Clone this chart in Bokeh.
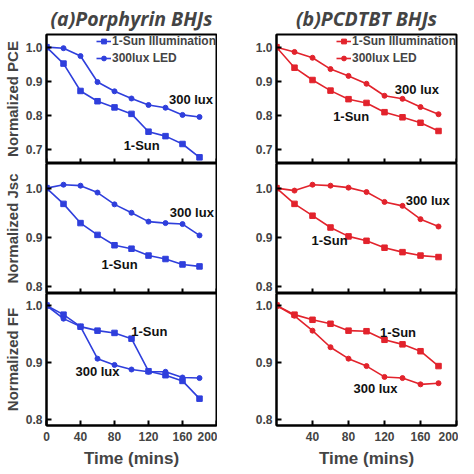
from bokeh.plotting import figure
from bokeh.layouts import row, column
from bokeh.models import FixedTicker, Legend, LegendItem, ColumnDataSource, PrintfTickFormatter
from bokeh.core.properties import value
from bokeh.embed import file_html
from bokeh.resources import INLINE

# ---------------- data ----------------
time = [0, 20, 40, 60, 80, 100, 120, 140, 160, 180]

a_pce_sun = [1.0, 0.952, 0.872, 0.842, 0.824, 0.805, 0.753, 0.740, 0.717, 0.678]
a_pce_lux = [1.0, 0.997, 0.974, 0.898, 0.871, 0.850, 0.831, 0.823, 0.802, 0.796]
a_jsc_sun = [1.0, 0.968, 0.929, 0.905, 0.884, 0.877, 0.863, 0.856, 0.845, 0.841]
a_jsc_lux = [1.0, 1.007, 1.005, 0.991, 0.967, 0.950, 0.932, 0.929, 0.927, 0.904]
a_ff_sun = [1.0, 0.984, 0.963, 0.956, 0.952, 0.942, 0.885, 0.878, 0.868, 0.837]
a_ff_lux = [1.0, 0.977, 0.963, 0.907, 0.896, 0.888, 0.884, 0.884, 0.874, 0.873]

b_pce_sun = [1.0, 0.940, 0.904, 0.873, 0.848, 0.837, 0.810, 0.795, 0.779, 0.755]
b_pce_lux = [1.0, 0.986, 0.969, 0.936, 0.916, 0.893, 0.858, 0.849, 0.825, 0.804]
b_jsc_sun = [1.0, 0.968, 0.944, 0.920, 0.902, 0.893, 0.879, 0.870, 0.863, 0.860]
b_jsc_lux = [1.0, 0.995, 1.007, 1.005, 1.001, 0.992, 0.972, 0.964, 0.937, 0.922]
b_ff_sun = [1.0, 0.984, 0.975, 0.968, 0.956, 0.955, 0.940, 0.932, 0.920, 0.894]
b_ff_lux = [1.0, 0.982, 0.956, 0.927, 0.907, 0.894, 0.875, 0.873, 0.862, 0.864]

titles = ["(a)Porphyrin BHJs", "(b)PCDTBT BHJs"]
y_labels = ["Normalized PCE", "Normalized Jsc", "Normalized FF"]
x_label = "Time (mins)"
legend_labels = ["1-Sun Illumination", "300lux LED"]
x_ticks_left = [0, 40, 80, 120, 160, 200]
x_ticks_right = [40, 80, 120, 160, 200]
y_ticks = [[0.7, 0.8, 0.9, 1.0], [0.8, 0.9, 1.0], [0.8, 0.9, 1.0]]
y_ranges = [(0.66, 1.037), (0.786, 1.05), (0.79, 1.021)]

# annotation texts: (text, x, y)
ann_a = [[("300 lux", 170, 0.846), ("1-Sun", 112, 0.712)],
         [("300 lux", 171, 0.950), ("1-Sun", 86, 0.844)],
         [("1-Sun", 121, 0.955), ("300 lux", 60, 0.884)]]
ann_b = [[("300 lux", 156, 0.875), ("1-Sun", 83, 0.796)],
         [("300 lux", 168, 0.974), ("1-Sun", 59, 0.893)],
         [("1-Sun", 135, 0.953), ("300 lux", 110, 0.855)]]

BLUE = "#2f3fdc"
RED = "#e2232c"
TICK_FONT = "Liberation Sans"
FRAME_H = [131, 130, 132]
TICK_LEN = 5


def make_panel(col, r, sun, lux, color, anns):
    left = col == 0
    top = r == 0
    bottom = r == 2
    width = 217 if left else 241
    mbl = 37 if left else 59
    mbr = 1 if left else 2
    mbt = 32 if top else 0
    mbb = 45 if bottom else 0
    height = FRAME_H[r] + mbt + mbb
    p = figure(width=width, height=height, x_range=(0, 200), y_range=y_ranges[r],
               output_backend="svg", toolbar_location=None,
               min_border_left=mbl, min_border_right=mbr,
               min_border_top=mbt, min_border_bottom=mbb)
    p.grid.visible = False
    p.outline_line_color = "black"
    p.outline_line_width = 2
    p.background_fill_color = "white"
    p.border_fill_color = "white"

    xticks = x_ticks_left if left else x_ticks_right
    xa = p.xaxis[0]
    if bottom:
        xa.ticker = FixedTicker(ticks=xticks)
        xa.major_tick_in = TICK_LEN
        xa.major_tick_out = 0
        xa.minor_tick_line_color = None
        xa.axis_line_width = 2
        xa.major_tick_line_width = 2
        xa.major_label_text_font = TICK_FONT
        xa.major_label_text_font_style = "bold"
        xa.major_label_text_font_size = "12px"
        xa.major_label_standoff = 6
        xa.axis_label = x_label
        xa.axis_label_text_font = TICK_FONT
        xa.axis_label_text_font_style = "bold"
        xa.axis_label_text_font_size = "17px"
        xa.axis_label_standoff = 5
    else:
        xa.visible = False
        y0, y1 = y_ranges[r]
        tl = TICK_LEN * (y1 - y0) / FRAME_H[r]
        p.segment(x0=xticks, x1=xticks, y0=[y0] * len(xticks), y1=[y0 + tl] * len(xticks),
                  line_color="black", line_width=2)

    ya = p.yaxis[0]
    ya.ticker = FixedTicker(ticks=y_ticks[r])
    ya.formatter = PrintfTickFormatter(format="%.1f")
    ya.major_tick_in = TICK_LEN
    ya.major_tick_out = 0
    ya.minor_tick_line_color = None
    ya.axis_line_width = 2
    ya.major_tick_line_width = 2
    ya.major_label_text_font = TICK_FONT
    ya.major_label_text_font_style = "bold"
    ya.major_label_text_font_size = "12px"
    ya.major_label_standoff = 4
    if left:
        ya.axis_label = y_labels[r]
        ya.axis_label_text_font = TICK_FONT
        ya.axis_label_text_font_style = "bold"
        ya.axis_label_text_font_size = "15px"
        ya.axis_label_standoff = 2

    if top:
        p.title.text = titles[col]
        p.title.align = "center"
        p.title.text_font = "Open Sans"
        p.title.text_font_style = "bold italic"
        p.title.text_font_size = "19.5px"
        p.title.offset = 0
        p.title.standoff = 5

    src = ColumnDataSource(dict(t=time, sun=sun, lux=lux))
    l1 = p.line("t", "sun", source=src, color=color, line_width=1.6)
    m1 = p.scatter("t", "sun", source=src, marker="square", size=5.5, color=color)
    l2 = p.line("t", "lux", source=src, color=color, line_width=1.6)
    m2 = p.scatter("t", "lux", source=src, marker="circle", size=5, color=color)

    for txt, x, y in anns:
        p.text(x=[x], y=[y], text=[txt], text_font=value(TICK_FONT),
               text_font_style="bold", text_font_size="13px",
               text_align="center", text_baseline="middle", text_color="#111111")

    if top:
        leg = Legend(items=[LegendItem(label=legend_labels[0], renderers=[l1, m1]),
                            LegendItem(label=legend_labels[1], renderers=[l2, m2])],
                     location="top_right")
        leg.background_fill_alpha = 0
        leg.border_line_color = None
        leg.label_text_font = TICK_FONT
        leg.label_text_font_style = "bold"
        leg.label_text_font_size = "12px"
        leg.glyph_width = 15
        leg.glyph_height = 12
        leg.label_standoff = 1
        leg.spacing = 3
        leg.padding = 1
        leg.margin = 0
        leg.label_height = 14
        leg.label_width = 104 if left else 99
        p.add_layout(leg)
    return p


data_a = [(a_pce_sun, a_pce_lux), (a_jsc_sun, a_jsc_lux), (a_ff_sun, a_ff_lux)]
data_b = [(b_pce_sun, b_pce_lux), (b_jsc_sun, b_jsc_lux), (b_ff_sun, b_ff_lux)]

left_col = column([make_panel(0, r, data_a[r][0], data_a[r][1], BLUE, ann_a[r]) for r in range(3)], spacing=0)
right_col = column([make_panel(1, r, data_b[r][0], data_b[r][1], RED, ann_b[r]) for r in range(3)], spacing=0)
layout = row(left_col, right_col, spacing=0)

open("out.html", "w").write(file_html(layout, INLINE))
